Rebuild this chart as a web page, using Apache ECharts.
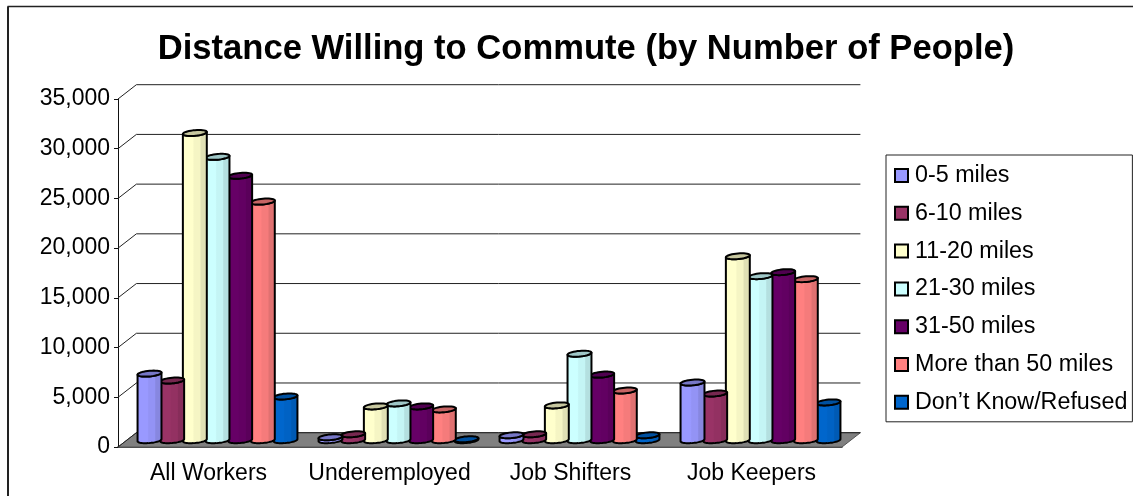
<!DOCTYPE html>
<html>
<head>
<meta charset="utf-8">
<style>html,body{margin:0;padding:0;background:#fff}#c{width:1133px;height:496px}</style>
<script src="https://cdn.jsdelivr.net/npm/echarts@6/dist/echarts.min.js"></script>
</head>
<body>
<div id="c"></div>
<script>
// Commute-distance survey counts, per worker group and distance band.
const categories = ['All Workers', 'Underemployed', 'Job Shifters', 'Job Keepers'];
const seriesNames = ['0-5 miles', '6-10 miles', '11-20 miles', '21-30 miles', '31-50 miles', 'More than 50 miles', 'Don\u2019t Know/Refused'];
const miles0to5 = [6700, 300, 500, 5800];
const miles6to10 = [6000, 600, 600, 4700];
const miles11to20 = [30900, 3400, 3500, 18500];
const miles21to30 = [28500, 3700, 8700, 16500];
const miles31to50 = [26600, 3400, 6600, 16900];
const milesOver50 = [24000, 3100, 5000, 16200];
const refused = [4400, 100, 500, 3800];
const seriesValues = [miles0to5, miles6to10, miles11to20, miles21to30, miles31to50, milesOver50, refused];
const seriesColors = ['#9999FF', '#993366', '#FFFFCC', '#CCFFFF', '#660066', '#FF8080', '#0066CC'];
const valueTicks = [0, 5000, 10000, 15000, 20000, 25000, 30000, 35000];

// Oblique projection used for the pseudo-3D box
const WALL_DX = 18.4, WALL_DY = -14.3;
const BAR_DX = 9, BAR_DY = -6.8;
const BAR_STEP = 0.1252;       // bar spacing, fraction of the category band
const RX = 11.2, SKEW_X = 4.2, SKEW_Y = -3;

function shade(hex, k) {
  const n = parseInt(hex.slice(1), 16);
  const c = [n >> 16, (n >> 8) & 255, n & 255].map(v => Math.round(v * k));
  return 'rgb(' + c.join(',') + ')';
}

// Outline of a skewed ellipse around (cx, cy) between two angles
function ringPoints(cx, cy, from, to, steps) {
  const pts = [];
  for (let i = 0; i <= steps; i++) {
    const t = from + (to - from) * i / steps;
    pts.push([cx + RX * Math.cos(t) + SKEW_X * Math.sin(t), cy + SKEW_Y * Math.sin(t)]);
  }
  return pts;
}

function renderCylinder(index, color) {
  return function (params, api) {
    const cat = api.value(0);
    const base = api.coord([cat, 0]);
    const top = api.coord([cat, api.value(1)]);
    const band = api.size([1, 0])[0];
    const cx = base[0] + BAR_DX + (index - 3) * band * BAR_STEP;
    const by = base[1] + BAR_DY;
    const ty = top[1] + BAR_DY;
    // Silhouette angle where the skewed ellipse reaches its widest x
    const a = Math.atan2(SKEW_X, RX);
    const bottomArc = ringPoints(cx, by, a, a - Math.PI, 24);
    const topArc = ringPoints(cx, ty, a - Math.PI, a, 24);
    const side = {
      type: 'linear', x: 0, y: 0, x2: 1, y2: 0,
      colorStops: [
        { offset: 0, color: color },
        { offset: 0.42, color: color },
        { offset: 0.47, color: shade(color, 0.96) },
        { offset: 0.7, color: shade(color, 0.96) },
        { offset: 0.74, color: shade(color, 0.88) },
        { offset: 1, color: shade(color, 0.88) }
      ]
    };
    return {
      type: 'group',
      children: [
        {
          type: 'polygon',
          shape: { points: bottomArc.concat(topArc) },
          style: { fill: side, stroke: '#000', lineWidth: 2, lineJoin: 'round' }
        },
        {
          type: 'polygon',
          shape: { points: ringPoints(cx, ty, 0, Math.PI * 2, 36) },
          style: { fill: shade(color, 0.78), stroke: '#000', lineWidth: 2, lineJoin: 'round' }
        }
      ]
    };
  };
}

// Floor parallelogram, back-wall gridlines and the left-wall diagonals
function renderBox(params, api) {
  const v = api.value(0);
  const a = api.coord([0, v]);
  const band = api.size([1, 0])[0];
  const left = a[0] - band / 2;
  const right = left + band * categories.length;
  const y = a[1];
  const lines = [
    { type: 'line', shape: { x1: left, y1: y, x2: left + WALL_DX, y2: y + WALL_DY }, style: { stroke: '#222', lineWidth: 1 } },
    { type: 'line', shape: { x1: left + WALL_DX, y1: y + WALL_DY, x2: right + WALL_DX, y2: y + WALL_DY }, style: { stroke: '#222', lineWidth: 1 } }
  ];
  if (v === 0) {
    lines.unshift({
      type: 'polygon',
      shape: { points: [[left, y], [left + WALL_DX, y + WALL_DY], [right + WALL_DX, y + WALL_DY], [right, y]] },
      style: { fill: '#808080', stroke: '#555', lineWidth: 1 }
    });
  }
  return { type: 'group', children: lines };
}

const cylinderSeries = seriesNames.map((name, i) => ({
  name: name,
  type: 'custom',
  z: 20 - i,
  itemStyle: { color: seriesColors[i], borderColor: '#000', borderWidth: 1.5 },
  encode: { x: 0, y: 1 },
  data: seriesValues[i].map((v, c) => [c, v]),
  renderItem: renderCylinder(i, seriesColors[i])
}));

const chart = echarts.init(document.getElementById('c'));
chart.setOption({
  animation: false,
  backgroundColor: '#fff',
  textStyle: { fontFamily: '"Liberation Sans", Arial, sans-serif', color: '#000' },
  title: {
    text: 'Distance Willing to Commute (by Number of People)',
    left: 581, top: 27, textAlign: 'center',
    textStyle: { fontFamily: '"Liberation Sans", Arial, sans-serif', fontSize: 34.6, fontWeight: 'bold', color: '#000' }
  },
  grid: { left: 118, right: 291, top: 99, bottom: 49 },
  legend: {
    orient: 'vertical',
    left: 886, top: 155,
    padding: [9, 5, 8, 8],
    itemWidth: 13, itemHeight: 13,
    itemGap: 14.8,
    icon: 'rect',
    backgroundColor: '#fff',
    borderColor: '#222',
    borderWidth: 1,
    selectedMode: false,
    textStyle: { fontFamily: '"Liberation Sans", Arial, sans-serif', fontSize: 23.3, color: '#000', padding: [0, 0, 0, 2] },
    data: seriesNames
  },
  xAxis: {
    type: 'category',
    data: categories,
    axisLine: { lineStyle: { color: '#111', width: 1.5 } },
    axisTick: { length: 5, lineStyle: { color: '#111' } },
    axisLabel: { fontSize: 23, color: '#000', margin: 15, interval: 0 },
    splitLine: { show: false }
  },
  yAxis: {
    type: 'value',
    min: 0, max: 35000, interval: 5000,
    axisLine: { show: true, lineStyle: { color: '#111', width: 1 } },
    axisTick: { show: true, length: 4, lineStyle: { color: '#111' } },
    axisLabel: { fontSize: 23, color: '#000', margin: 8, formatter: v => v.toLocaleString('en-US') },
    splitLine: { show: false }
  },
  series: [{
    type: 'custom',
    silent: true,
    z: 1,
    encode: { y: 0 },
    data: valueTicks.map(v => [v]),
    renderItem: renderBox
  }].concat(cylinderSeries),
  graphic: [
    { type: 'line', silent: true, shape: { x1: 7.5, y1: 6.5, x2: 1133, y2: 6.5 }, style: { stroke: '#222', lineWidth: 1.5 } },
    { type: 'line', silent: true, shape: { x1: 8, y1: 6.5, x2: 8, y2: 496 }, style: { stroke: '#222', lineWidth: 2 } }
  ]
});
</script>
</body>
</html>
